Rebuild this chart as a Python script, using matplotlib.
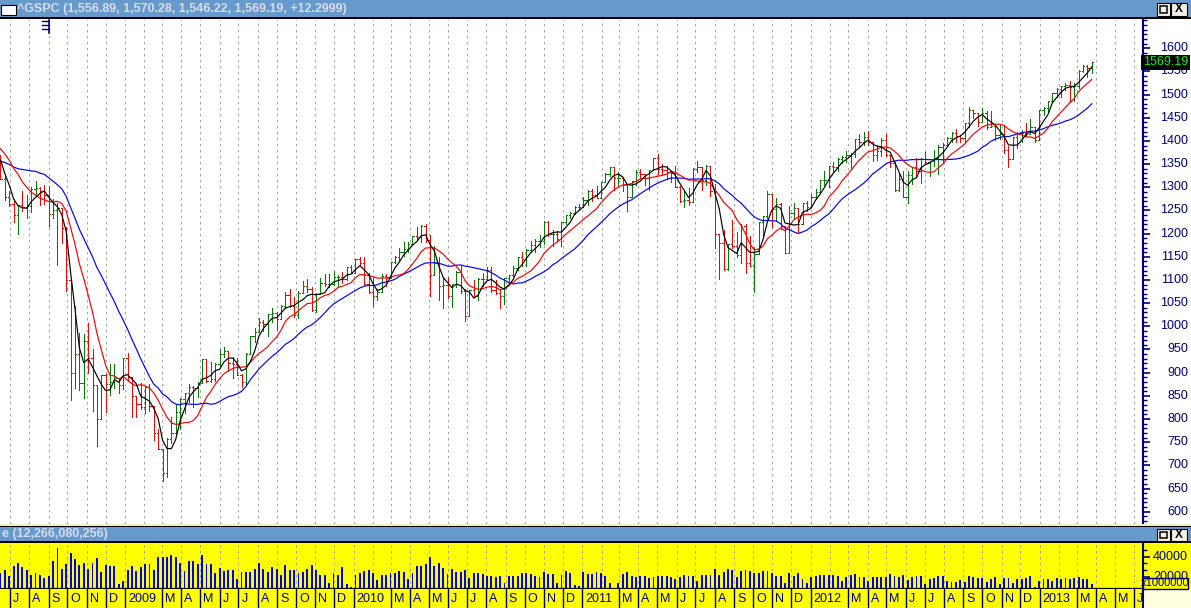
import numpy as np
import pandas as pd
import matplotlib
matplotlib.use('Agg')
import matplotlib.pyplot as plt
import matplotlib.dates as mdates
import matplotlib.transforms as mtransforms
from matplotlib.patches import Rectangle
from matplotlib.lines import Line2D

# weekly ^GSPC bars (first bar = week of 2008-06-16)
first_week = '2008-06-16'

# closes of the 20 weeks before the first bar, only used by the averages
warmup_close = [1395, 1331, 1349, 1353, 1331, 1293, 1288, 1330, 1315, 1370,
                1333, 1390, 1398, 1414, 1388, 1425, 1376, 1400, 1361, 1360]

week_open = [
    1360, 1318, 1278, 1263, 1240, 1261, 1258, 1260, 1296, 1298,
    1292, 1283, 1242, 1252, 1255, 1213, 1099, 899, 941, 877,
    969, 931, 873, 800, 896, 876, 880, 888, 873, 932,
    890, 850, 832, 826, 869, 827, 770, 735, 683, 757,
    769, 816, 843, 857, 870, 866, 878, 929, 883, 887,
    919, 940, 946, 921, 919, 896, 879, 940, 979, 988,
    1010, 1004, 1026, 1029, 1016, 1043, 1068, 1044, 1025, 1072,
    1088, 1080, 1036, 1069, 1094, 1091, 1092, 1106, 1106, 1103,
    1127, 1115, 1145, 1136, 1092, 1074, 1066, 1075, 1109, 1105,
    1139, 1150, 1160, 1167, 1178, 1194, 1192, 1217, 1187, 1111,
    1136, 1088, 1089, 1065, 1092, 1118, 1077, 1023, 1078, 1065,
    1103, 1102, 1122, 1079, 1072, 1065, 1105, 1110, 1126, 1149,
    1146, 1165, 1176, 1183, 1183, 1226, 1199, 1200, 1189, 1225,
    1240, 1244, 1257, 1258, 1272, 1293, 1283, 1276, 1311, 1329,
    1343, 1320, 1321, 1304, 1279, 1314, 1332, 1328, 1320, 1337,
    1364, 1340, 1338, 1333, 1331, 1300, 1271, 1272, 1268, 1340,
    1344, 1316, 1345, 1292, 1199, 1179, 1124, 1177, 1174, 1154,
    1216, 1136, 1131, 1155, 1225, 1238, 1285, 1253, 1264, 1216,
    1159, 1244, 1255, 1220, 1265, 1258, 1278, 1289, 1315, 1316,
    1345, 1343, 1361, 1366, 1370, 1371, 1404, 1397, 1408, 1398,
    1370, 1378, 1403, 1369, 1353, 1295, 1318, 1278, 1326, 1343,
    1335, 1362, 1355, 1357, 1363, 1386, 1391, 1406, 1418, 1411,
    1407, 1438, 1466, 1460, 1441, 1461, 1429, 1433, 1412, 1414,
    1380, 1360, 1409, 1416, 1418, 1414, 1430, 1402, 1467, 1472,
    1486, 1503, 1513, 1518, 1520, 1516, 1518, 1551, 1561, 1557]

week_high = [
    1370, 1328, 1291, 1274, 1262, 1292, 1284, 1300, 1313, 1300,
    1304, 1303, 1274, 1266, 1256, 1214, 1099, 1044, 985, 984,
    1007, 951, 873, 896, 898, 918, 918, 888, 932, 943,
    890, 850, 877, 870, 876, 827, 779, 735, 758, 804,
    832, 845, 857, 875, 871, 880, 930, 930, 924, 920,
    951, 956, 946, 934, 931, 898, 943, 980, 996, 1018,
    1013, 1027, 1039, 1031, 1045, 1074, 1080, 1063, 1076, 1097,
    1101, 1085, 1072, 1105, 1113, 1112, 1120, 1110, 1118, 1127,
    1133, 1146, 1150, 1150, 1115, 1104, 1080, 1112, 1113, 1139,
    1151, 1170, 1181, 1182, 1195, 1214, 1218, 1220, 1197, 1174,
    1150, 1105, 1106, 1092, 1120, 1131, 1081, 1078, 1099, 1104,
    1115, 1129, 1128, 1100, 1081, 1105, 1111, 1131, 1149, 1160,
    1167, 1185, 1189, 1196, 1228, 1227, 1207, 1206, 1225, 1241,
    1247, 1259, 1263, 1278, 1294, 1296, 1302, 1311, 1330, 1344,
    1343, 1332, 1323, 1305, 1314, 1337, 1339, 1329, 1338, 1364,
    1371, 1351, 1346, 1334, 1346, 1302, 1293, 1298, 1341, 1356,
    1344, 1347, 1346, 1307, 1199, 1208, 1177, 1230, 1204, 1220,
    1221, 1195, 1171, 1225, 1239, 1293, 1285, 1277, 1266, 1216,
    1260, 1267, 1255, 1265, 1270, 1285, 1297, 1316, 1334, 1346,
    1354, 1363, 1368, 1378, 1374, 1405, 1415, 1419, 1422, 1398,
    1392, 1406, 1415, 1370, 1354, 1328, 1335, 1335, 1344, 1364,
    1363, 1375, 1357, 1381, 1391, 1395, 1409, 1419, 1426, 1413,
    1438, 1474, 1467, 1460, 1471, 1464, 1464, 1433, 1434, 1434,
    1389, 1409, 1420, 1424, 1439, 1448, 1431, 1467, 1473, 1486,
    1503, 1514, 1518, 1525, 1530, 1525, 1552, 1564, 1564, 1570]

week_low = [
    1317, 1272, 1260, 1225, 1200, 1248, 1234, 1247, 1282, 1262,
    1264, 1217, 1233, 1133, 1180, 1077, 840, 866, 863, 845,
    899, 818, 741, 800, 815, 852, 867, 857, 865, 882,
    804, 805, 822, 812, 818, 754, 735, 667, 675, 748,
    767, 779, 814, 836, 826, 847, 878, 879, 879, 881,
    916, 933, 903, 888, 896, 869, 875, 940, 966, 987,
    990, 979, 1009, 992, 1016, 1039, 1041, 1020, 1018, 1072,
    1075, 1033, 1030, 1069, 1086, 1084, 1090, 1085, 1093, 1100,
    1115, 1115, 1131, 1090, 1071, 1044, 1057, 1075, 1086, 1105,
    1136, 1141, 1152, 1161, 1175, 1187, 1182, 1182, 1066, 1111,
    1056, 1040, 1061, 1042, 1084, 1071, 1011, 1022, 1064, 1056,
    1087, 1101, 1074, 1070, 1040, 1049, 1095, 1109, 1122, 1131,
    1131, 1160, 1160, 1171, 1178, 1194, 1173, 1185, 1174, 1220,
    1233, 1243, 1254, 1257, 1262, 1271, 1276, 1276, 1311, 1324,
    1294, 1303, 1291, 1249, 1279, 1304, 1320, 1304, 1295, 1337,
    1329, 1329, 1318, 1311, 1300, 1268, 1258, 1262, 1268, 1333,
    1295, 1305, 1282, 1168, 1101, 1122, 1121, 1170, 1150, 1136,
    1114, 1131, 1075, 1155, 1191, 1234, 1215, 1227, 1209, 1158,
    1159, 1231, 1203, 1220, 1248, 1258, 1275, 1289, 1305, 1300,
    1336, 1335, 1352, 1354, 1341, 1366, 1389, 1392, 1392, 1357,
    1358, 1367, 1367, 1343, 1292, 1291, 1278, 1266, 1306, 1325,
    1310, 1353, 1325, 1346, 1329, 1354, 1391, 1397, 1398, 1397,
    1397, 1429, 1449, 1433, 1441, 1425, 1429, 1403, 1405, 1373,
    1343, 1360, 1385, 1398, 1411, 1414, 1398, 1402, 1455, 1463,
    1485, 1495, 1495, 1509, 1485, 1487, 1514, 1548, 1538, 1546]

week_close = [
    1318, 1278, 1263, 1240, 1261, 1258, 1260, 1296, 1298, 1292,
    1283, 1242, 1252, 1255, 1213, 1099, 899, 941, 877, 969,
    931, 873, 800, 896, 876, 880, 888, 873, 932, 890,
    850, 832, 826, 869, 827, 770, 735, 683, 757, 769,
    816, 843, 857, 870, 866, 878, 929, 883, 887, 919,
    940, 946, 921, 919, 896, 879, 940, 979, 988, 1010,
    1004, 1026, 1029, 1016, 1043, 1068, 1044, 1025, 1072, 1088,
    1080, 1036, 1069, 1094, 1091, 1092, 1106, 1106, 1103, 1127,
    1115, 1145, 1136, 1092, 1074, 1066, 1075, 1109, 1105, 1139,
    1150, 1160, 1167, 1178, 1194, 1192, 1217, 1187, 1111, 1136,
    1088, 1089, 1065, 1092, 1118, 1077, 1023, 1078, 1065, 1103,
    1102, 1122, 1079, 1072, 1065, 1105, 1110, 1126, 1149, 1146,
    1165, 1176, 1183, 1183, 1226, 1199, 1200, 1189, 1225, 1240,
    1244, 1257, 1258, 1272, 1293, 1283, 1276, 1311, 1329, 1343,
    1320, 1321, 1304, 1279, 1314, 1332, 1328, 1320, 1337, 1364,
    1340, 1338, 1333, 1331, 1300, 1271, 1272, 1268, 1340, 1344,
    1316, 1345, 1292, 1199, 1179, 1124, 1177, 1174, 1154, 1216,
    1136, 1131, 1155, 1225, 1238, 1285, 1253, 1264, 1216, 1159,
    1244, 1255, 1220, 1265, 1258, 1278, 1289, 1315, 1316, 1345,
    1343, 1361, 1366, 1370, 1371, 1404, 1397, 1408, 1398, 1370,
    1378, 1403, 1369, 1353, 1295, 1318, 1278, 1326, 1343, 1335,
    1362, 1355, 1357, 1363, 1386, 1391, 1406, 1418, 1411, 1407,
    1438, 1466, 1460, 1441, 1461, 1429, 1433, 1412, 1414, 1380,
    1360, 1409, 1416, 1418, 1414, 1430, 1402, 1467, 1472, 1486,
    1503, 1513, 1518, 1520, 1516, 1518, 1551, 1561, 1557, 1569.19]

# weekly volume, millions of shares
week_volume = [
    24000, 26700, 20700, 30700, 33400, 29400, 26700, 21700, 24000, 21700,
    18400, 20700, 35700, 48400, 27400, 32700, 43400, 37400, 31700, 33400,
    27400, 33400, 38400, 25000, 31700, 30700, 30700, 12700, 15700, 26700,
    30700, 25700, 29400, 32400, 32400, 26700, 39400, 39400, 39400, 41700,
    40000, 33400, 25700, 35700, 36000, 32400, 41700, 32700, 32400, 24000,
    29000, 26000, 26700, 26700, 17400, 25000, 25000, 25000, 27400, 34000,
    27400, 25000, 29400, 27400, 21700, 31700, 26700, 26700, 24000, 25000,
    27400, 31700, 26700, 21700, 21700, 14000, 23400, 21700, 29400, 12700,
    10000, 21700, 24000, 26000, 26700, 23400, 16700, 21700, 21700, 24000,
    24000, 26000,
    25000, 17700, 24000, 30700, 30700, 32700, 40000, 30700, 34000, 28400,
    22700, 27700, 25000, 25000, 26700, 19000, 24000, 24000, 22700, 21000,
    21000, 20000, 21000, 13400, 20700, 20700, 21000, 24000, 24000, 22700,
    21000, 20000, 25000, 22700, 22400, 14000, 21700, 25700, 24000, 11700,
    10700, 25000, 22700, 22700, 25000, 23400, 21000, 14000, 9000, 13400,
    22400, 25000, 20700, 19400, 21000, 21000, 18400, 19400, 21000, 21000,
    21000, 20000, 17400, 19400, 21700, 21000, 20700, 16000, 21700, 21700,
    21700, 27700, 21700, 25000, 27700, 26700, 20000, 26000, 26700, 25700,
    24000, 24000, 26000, 25700, 24000, 21000, 21000, 14000, 23400, 21000,
    23400,
    17400, 13400, 19400, 20700, 21700, 21700, 21700, 21700, 21000, 16000,
    20000, 21700, 22700, 19400, 20000, 15700, 20000, 20000, 20000, 20000,
    22700, 21000, 20000, 21700, 16700, 19400, 20700, 20700, 12400, 17400,
    18400, 20700, 20700, 15700, 15000, 15000, 16700, 14400, 20700, 19400,
    18400, 18400, 14400, 17400, 19400, 12700, 18400, 18400, 14000, 17400,
    17400, 19000, 20700, 10000, 16000, 17700, 17400, 15700, 18400, 17400,
    18400, 17700, 19000, 20000, 17400, 17400, 12266]

title_text = '^GSPC (1,556.89, 1,570.28, 1,546.22, 1,569.19, +12.2999)'
volume_title = 'e (12,266,080,256)'
last_price = '1569.19'
price_labels = list(range(600, 1601, 50))
volume_labels = [20000, 40000]
month_letters = 'JFMAMJJASOND'

W, H = 1191, 608
plt.rcParams['font.family'] = ['Liberation Sans', 'DejaVu Sans']
NAVY = '#000080'
TITLE_BLUE = '#6699CC'
YELLOW = '#FFFF00'
PX = 0.72  # one pixel, in points

fig = plt.figure(figsize=(W / 100, H / 100), dpi=100)
fig.patch.set_facecolor('white')


def px_axes(x0, y0, x1, y1):
    return fig.add_axes([x0 / W, 1 - y1 / H, (x1 - x0) / W, (y1 - y0) / H])


def px_rect(x0, y0, x1, y1, z=1, **kw):
    fig.patches.append(Rectangle((x0 / W, 1 - y1 / H), (x1 - x0) / W, (y1 - y0) / H,
                                 transform=fig.transFigure, zorder=z, **kw))


def px_line(xs, ys, **kw):
    fig.add_artist(Line2D([x / W for x in xs], [1 - y / H for y in ys],
                          transform=fig.transFigure, **kw))


# time axis
dates = np.datetime64(first_week) + np.arange(len(week_close)) * np.timedelta64(7, 'D')
xd = mdates.date2num(dates)
x_left = mdates.date2num(np.datetime64('2008-06-15T06:00'))
x_right = x_left + 1143 / 0.6261
months = pd.date_range('2008-07-01', '2013-06-01', freq='MS')
xm = mdates.date2num(months.to_numpy())

o = np.array(week_open, float)
hi = np.array(week_high, float)
lo = np.array(week_low, float)
c = np.array(week_close, float)
cols = np.where(c >= o, '#008000', '#FF0000')

s = pd.Series(warmup_close + week_close, dtype=float)
n0 = len(warmup_close)
ma_fast = s.rolling(4).mean().to_numpy()[n0:]
ma_mid = s.rolling(10).mean().to_numpy()[n0:]
ma_slow = s.rolling(20).mean().to_numpy()[n0:]

# ---------------- window chrome ----------------
px_rect(0, 0, W, 17, fc=TITLE_BLUE, ec='none')
px_rect(0, 17, W, 19, fc='black', ec='none')
px_rect(1, 5, 16, 15, fc='white', ec='black', lw=0.8)
fig.text(17 / W, 1 - 9 / H, title_text, ha='left', va='center', fontsize=9,
         fontweight='bold', color='#D6DCF6')

px_rect(0, 524, W, 525.5, fc='#F4EEC8', ec='none')
px_rect(0, 525.5, W, 527, fc='black', ec='none')
px_rect(0, 527, W, 541, fc=TITLE_BLUE, ec='none')
px_rect(0, 541, W, 543, fc='black', ec='none')
fig.text(2 / W, 1 - 534 / H, volume_title, ha='left', va='center', fontsize=9,
         fontweight='bold', color='#D6DCF6')


def buttons(y0, y1):
    px_rect(1157, y0, 1170, y1, fc='#F2F0E2', ec='black', lw=0.8)
    px_rect(1160, y0 + 3, 1167, y1 - 3, fc='none', ec='black', lw=1.1)
    px_rect(1171, y0, 1187, y1, fc='#F2F0E2', ec='black', lw=0.8)
    fig.text(1179 / W, 1 - (y0 + y1) / 2 / H, 'X', ha='center', va='center',
             fontsize=8.5, fontweight='bold', color='black')


buttons(3, 16)
buttons(528.5, 540.5)

# right-hand panels
px_rect(1143, 543, W, 589, z=-1, fc=YELLOW, ec='none')
px_rect(1143, 589, W, H, z=-1, fc='#FFFFE0', ec='none')

# ---------------- price panel ----------------
ax = px_axes(0, 19, 1143, 524)
ax.set_facecolor('white')
for m in xm:
    ax.axvline(m, color='#A8A8A8', lw=PX, ls=(0, (2.5, 3.5)), zorder=0)

tick = 2.0
ax.vlines(xd, lo, hi, colors=cols, lw=PX, antialiased=False, zorder=2)
ax.hlines(o, xd - tick, xd, colors=cols, lw=PX, antialiased=False, zorder=2)
ax.hlines(c, xd, xd + tick, colors=cols, lw=PX, antialiased=False, zorder=2)
ax.plot(xd, ma_slow, color='#0000FF', lw=0.85, zorder=3)
ax.plot(xd, ma_mid, color='#FF0000', lw=0.85, zorder=3)
ax.plot(xd, ma_fast, color='black', lw=0.85, zorder=3)

ax.set_xlim(x_left, x_right)
ax.set_ylim(573.5, 1663)
ax.set_xticks([])
for side in ['left', 'top', 'bottom']:
    ax.spines[side].set_visible(False)
ax.spines['right'].set_color(NAVY)
ax.spines['right'].set_linewidth(1.5)
ax.yaxis.tick_right()
ax.set_yticks(price_labels)
ax.set_yticks(np.arange(580, 1661, 10), minor=True)
ax.tick_params(axis='y', which='major', length=5, width=1.2, color=NAVY,
               labelright=False, labelleft=False)
ax.tick_params(axis='y', which='minor', length=3, width=1.0, color=NAVY)
ytrans = mtransforms.blended_transform_factory(fig.transFigure, ax.transData)
for v in price_labels:
    ax.text(1188 / W, v, str(v), transform=ytrans, ha='right', va='center',
            fontsize=9, color=NAVY)
ax.text(1188 / W, c[-1], last_price, transform=ytrans, ha='right', va='center',
        fontsize=9, color='#00FF00', zorder=5,
        bbox=dict(boxstyle='square,pad=0.12', fc='black', ec='none'))

# small scale marker near the top left
px_line([49.3, 49.3], [20, 33], color=NAVY, lw=1.2)
for yy in (20.7, 25, 29.3):
    px_line([42, 49.3], [yy, yy], color=NAVY, lw=1.0)

# ---------------- volume panel ----------------
axv = px_axes(0, 543, 1143, 589)
axv.set_facecolor(YELLOW)
for m in xm:
    axv.axvline(m, color='#A0A0C8', lw=PX, ls=(0, (2.5, 3.5)), zorder=0)
axv.bar(xd, week_volume, width=3.0, color='#0000FF', antialiased=False, zorder=2)
axv.set_xlim(x_left, x_right)
axv.set_ylim(7700, 53700)
axv.set_xticks([])
for side in ['left', 'top']:
    axv.spines[side].set_visible(False)
axv.spines['bottom'].set_color('black')
axv.spines['bottom'].set_linewidth(1.6)
axv.spines['right'].set_color(NAVY)
axv.spines['right'].set_linewidth(1.5)
axv.yaxis.tick_right()
axv.set_yticks(volume_labels)
axv.set_yticks([13333, 26667, 33333, 46667], minor=True)
axv.tick_params(axis='y', which='major', length=5, width=1.2, color=NAVY,
                labelright=False, labelleft=False)
axv.tick_params(axis='y', which='minor', length=3, width=1.0, color=NAVY)
vtrans = mtransforms.blended_transform_factory(fig.transFigure, axv.transData)
for v in volume_labels:
    axv.text(1188 / W, v, str(v), transform=vtrans, ha='right', va='center',
             fontsize=9, color=NAVY)
px_rect(1143, 577.5, 1188, 589, fc=YELLOW, ec=NAVY, lw=1.0)
fig.text(1165.5 / W, 1 - 583.5 / H, 'x1000000', ha='center', va='center',
         fontsize=8, color=NAVY)

# ---------------- month strip ----------------
axs = px_axes(0, 589, 1143, H)
axs.set_facecolor(YELLOW)
axs.set_xlim(x_left, x_right)
axs.set_ylim(0, 1)
axs.set_xticks([])
axs.set_yticks([])
for side in ['left', 'top', 'bottom']:
    axs.spines[side].set_visible(False)
axs.spines['right'].set_color(NAVY)
axs.spines['right'].set_linewidth(1.5)
lbl_trans = mtransforms.offset_copy(axs.transData, fig=fig, x=3, y=0, units='dots')
for m, d in zip(xm, months):
    if d.month == 2:
        continue
    axs.axvline(m, color=NAVY, lw=1.0)
    txt = str(d.year) if d.month == 1 else month_letters[d.month - 1]
    axs.text(m, 0.5, txt, transform=lbl_trans, ha='left', va='center',
             fontsize=9, color=NAVY, clip_on=True)

fig.savefig('out.png', dpi=100, facecolor=fig.get_facecolor())
